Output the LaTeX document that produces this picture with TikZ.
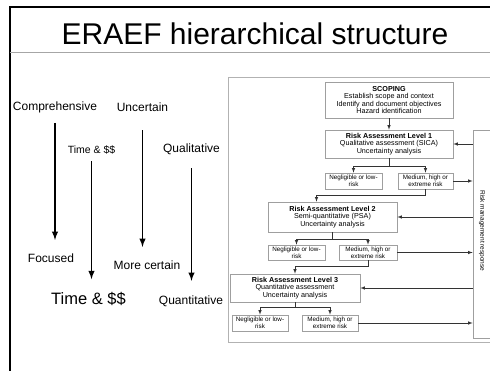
\documentclass[tikz,border=0pt]{standalone}
\usepackage{fontspec}
\setmainfont{Liberation Sans}
\usetikzlibrary{arrows}

\begin{document}
\begin{tikzpicture}[x=1pt, y=-1pt,
  trend/.style={arrows={-latex}, line width=1.8pt},
  word/.style={inner sep=0pt, font=\fontsize{12}{12}\selectfont},
  stage/.style={draw=gray!75, line width=.7pt, fill=white, align=center,
    inner sep=0pt, font=\fontsize{7.2}{7.6}\selectfont},
  outcome/.style={stage, font=\fontsize{6.3}{7.4}\selectfont, minimum height=16pt},
  flow/.style={arrows={-latex}, line width=.6pt, draw=black!80}]
\useasboundingbox (0,0) rectangle (490,371);

% slide frame and title
\draw[line width=1.6pt] (10,380) -- (10,7) -- (500,7);
\draw[gray!70, line width=.8pt] (10,52) -- (500,52);
\node[font=\fontsize{30}{30}\selectfont] at (255,34) (title) {ERAEF hierarchical structure};

% trends down the levels
\node[word] at (55,107) (wide) {Comprehensive};
\node[word] at (51,258) (narrow) {Focused};
\node[word, font=\fontsize{10.5}{10.5}\selectfont] at (91.5,150) (cost) {Time \& \$\$};
\node[word, font=\fontsize{16.5}{16.5}\selectfont] at (88.5,299) (costbig) {Time \& \$\$};
\node[word] at (142.5,107) (unsure) {Uncertain};
\node[word] at (147,265) (sure) {More certain};
\node[word] at (191.5,149) (qual) {Qualitative};
\node[word] at (191,301) (quant) {Quantitative};
\draw[trend, shorten <=10pt, shorten >=13.5pt] (wide.south) -- (wide.south |- narrow.north);
\draw[trend, shorten <=7pt, shorten >=13pt] (cost.south) -- (cost.south |- costbig.north);
\draw[trend, shorten <=18.5pt, shorten >=13.5pt] (unsure.south) -- (unsure.south |- sure.north);
\draw[trend, shorten <=13.5pt, shorten >=14.5pt] (qual.south) -- (qual.south |- quant.north);

% framework chart
\draw[gray!60, line width=.8pt] (500,77) -- (228,77) -- (228,342) -- (500,342);
\node[stage, minimum width=128pt, minimum height=36pt] at (389,100) (scope)
  {\textbf{SCOPING}\\Establish scope and context\\Identify and document objectives\\Hazard identification};
\node[stage, minimum width=128pt, minimum height=28pt] at (389,144) (lvl1)
  {\textbf{Risk Assessment Level 1}\\Qualitative assessment (SICA)\\Uncertainty analysis};
\node[outcome, minimum width=57pt] at (353.5,181) (neg1) {Negligible or low-\\risk};
\node[outcome, minimum width=55pt] at (425.5,181) (med1) {Medium, high or\\extreme risk};
\node[stage, minimum width=129pt, minimum height=30pt] at (332.5,217) (lvl2)
  {\textbf{Risk Assessment Level 2}\\Semi-quantitative (PSA)\\Uncertainty analysis};
\node[outcome, minimum width=57pt, minimum height=15pt] at (296.5,252.5) (neg2) {Negligible or low-\\risk};
\node[outcome, minimum width=58pt, minimum height=15pt] at (368,252.5) (med2) {Medium, high or\\extreme risk};
\node[stage, minimum width=130pt, minimum height=28pt] at (295,288) (lvl3)
  {\textbf{Risk Assessment Level 3}\\Quantitative assessment\\Uncertainty analysis};
\node[outcome, minimum width=56pt] at (260,323) (neg3) {Negligible or low-\\risk};
\node[outcome, minimum width=56pt] at (330,323) (med3) {Medium, high or\\extreme risk};
\node[stage, minimum width=30pt, minimum height=208pt] at (488,234) (resp) {};
\node[rotate=-90, font=\fontsize{6.5}{6.5}\selectfont] at (482,231) (resplabel) {Risk management response};

\draw[flow] (scope) -- (lvl1);
\draw[flow] (lvl1.south) -- ++(0,7.5) -| (neg1.north);
\draw[flow] (lvl1.south) -- ++(0,7.5) -| (med1.north);
\draw[flow] (med1.south) -- ++(0,6) -| ([xshift=-16pt]lvl2.north);
\draw[flow] (lvl2.south) -- ++(0,7) -| (neg2.north);
\draw[flow] (lvl2.south) -- ++(0,7) -| (med2.north);
\draw[flow] (med2.south) -- ++(0,5.5) -| (lvl3.north);
\draw[flow] (lvl3.south) -- ++(0,5) -| (neg3.north);
\draw[flow] (lvl3.south) -- ++(0,5) -| (med3.north);

% back and forth with the response column
\draw[flow] (resp.west |- lvl1) -- (lvl1);
\draw[flow] (med1) -- (resp.west |- med1);
\draw[flow] (resp.west |- lvl2) -- (lvl2);
\draw[flow] (med2) -- (resp.west |- med2);
\draw[flow] (resp.west |- lvl3) -- (lvl3);
\draw[flow] (med3) -- (resp.west |- med3);
\end{tikzpicture}
\end{document}
